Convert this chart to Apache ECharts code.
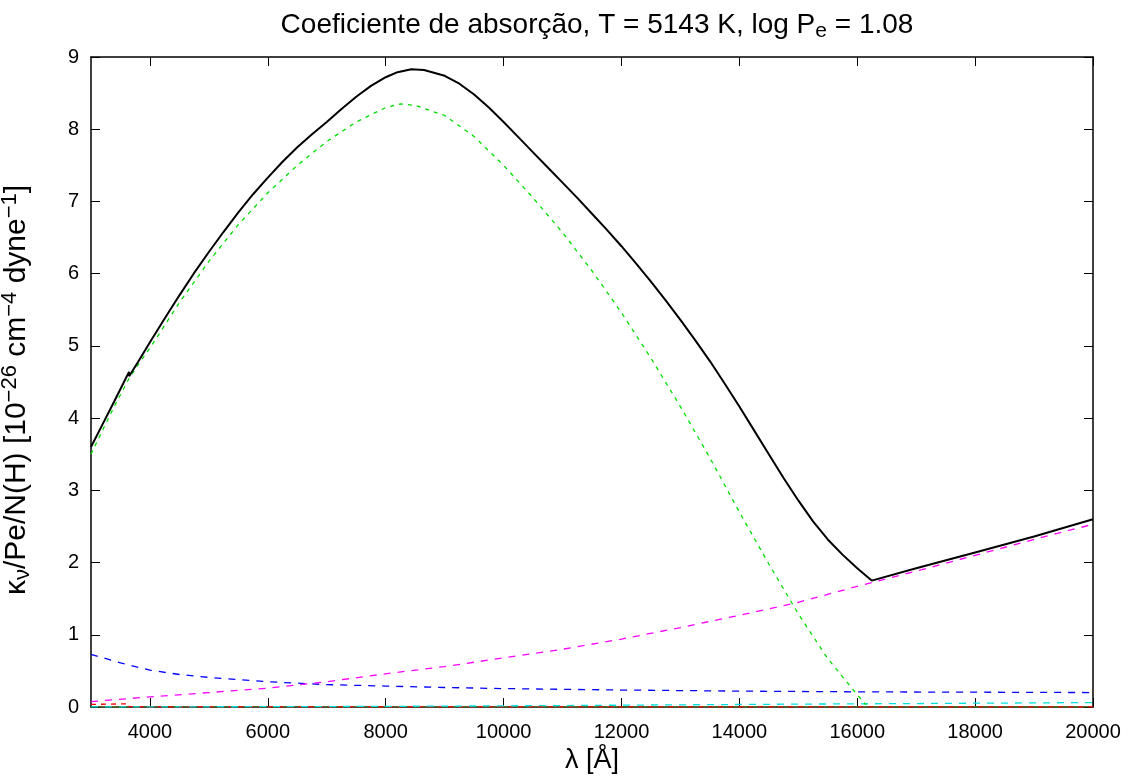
<!DOCTYPE html>
<html><head><meta charset="utf-8">
<script src="https://cdn.jsdelivr.net/npm/echarts@6/dist/echarts.min.js"></script>
<style>html,body{margin:0;padding:0;background:#fff}#c{width:1136px;height:776px}</style>
</head><body><div id="c"></div>
<script>
// tick labels
const xTicks = [4000, 6000, 8000, 10000, 12000, 14000, 16000, 18000, 20000];
const yTicks = [0, 1, 2, 3, 4, 5, 6, 7, 8, 9];

// total absorption coefficient (black)
const totalLam = [3000, 3200, 3400, 3645, 3647, 3800, 4000, 4250, 4500, 4750, 5000, 5250, 5500, 5750, 6000, 6250, 6500, 6750, 7000, 7250, 7500, 7750, 8000, 8200, 8435, 8650, 9000, 9250, 9500, 9750, 10000, 10250, 10500, 10750, 11000, 11250, 11500, 11750, 12000, 12250, 12500, 12750, 13000, 13250, 13500, 13750, 14000, 14250, 14500, 14750, 15000, 15250, 15500, 15750, 16000, 16245, 17000, 18000, 19000, 20000];
const totalVal = [3.60, 3.92, 4.24, 4.64, 4.58, 4.78, 5.05, 5.38, 5.70, 6.01, 6.30, 6.58, 6.85, 7.10, 7.33, 7.55, 7.75, 7.93, 8.10, 8.28, 8.45, 8.60, 8.72, 8.79, 8.83, 8.82, 8.74, 8.63, 8.48, 8.30, 8.10, 7.89, 7.68, 7.47, 7.26, 7.05, 6.83, 6.61, 6.38, 6.14, 5.89, 5.63, 5.36, 5.08, 4.79, 4.48, 4.16, 3.83, 3.50, 3.17, 2.86, 2.57, 2.32, 2.11, 1.92, 1.75, 1.92, 2.14, 2.36, 2.60];

// H- bound-free (green)
const hmbfLam = [3000, 3200, 3400, 3646, 3800, 4000, 4500, 5000, 5500, 6000, 6500, 7000, 7500, 8000, 8250, 8500, 9000, 9500, 10000, 10500, 11000, 11500, 12000, 12500, 13000, 13500, 14000, 14500, 15000, 15500, 16000, 16150];
const hmbfVal = [3.50, 3.84, 4.17, 4.55, 4.74, 4.97, 5.60, 6.17, 6.68, 7.12, 7.50, 7.83, 8.10, 8.30, 8.35, 8.33, 8.19, 7.90, 7.50, 7.05, 6.57, 6.04, 5.46, 4.83, 4.16, 3.45, 2.70, 1.98, 1.29, 0.67, 0.17, 0.03];

// H- free-free (magenta)
const hmffLam = [3000, 4000, 5000, 6000, 7000, 8000, 9000, 10000, 11000, 12000, 13000, 14000, 15000, 16000, 17000, 18000, 19000, 20000];
const hmffVal = [0.075, 0.14, 0.20, 0.26, 0.35, 0.46, 0.56, 0.68, 0.80, 0.94, 1.10, 1.27, 1.45, 1.67, 1.88, 2.10, 2.32, 2.53];

// H bound-free (blue)
const hbfLam = [3000, 3500, 4000, 4500, 5000, 6000, 7000, 8000, 9000, 10000, 12000, 14000, 16000, 18000, 20000];
const hbfVal = [0.73, 0.61, 0.51, 0.45, 0.41, 0.35, 0.31, 0.29, 0.27, 0.255, 0.235, 0.22, 0.21, 0.205, 0.20];

// H free-free (cyan)
const hffLam = [3000, 5000, 7000, 9000, 11000, 13000, 15000, 17000, 19000, 20000];
const hffVal = [0.001, 0.003, 0.006, 0.012, 0.020, 0.030, 0.040, 0.048, 0.057, 0.062];

// metals (red)
const metLam = [3000, 3300, 3645, 3647, 5000, 10000, 20000];
const metVal = [0.035, 0.040, 0.045, 0.004, 0.002, 0.001, 0.001];

// electron scattering (olive)
const elLam = [3000, 20000];
const elVal = [0.004, 0.004];

const zip = (a, b) => a.map((v, i) => [v, b[i]]);

const chart = echarts.init(document.getElementById('c'));
const FONT = 'Liberation Sans';
const axisCommon = {
  type: 'value',
  axisLine: { show: true, onZero: false, lineStyle: { color: '#000', width: 1.5 } },
  axisTick: { show: true, inside: true, length: 9, lineStyle: { color: '#000', width: 1 } },
  splitLine: { show: false }
};
function dashed(name, lam, val, color, dash) {
  return { name, type: 'line', data: zip(lam, val), showSymbol: false, symbol: 'none', z: 3,
    lineStyle: { color, width: 1.3, type: dash } };
}
chart.setOption({
  animation: false,
  backgroundColor: '#fff',
  title: {
    text: 'Coeficiente de absorção, T = 5143 K, log P{sub|e} = 1.08',
    left: 592, top: 4, textAlign: 'center',
    textStyle: { fontFamily: FONT, fontSize: 28, fontWeight: 'normal', color: '#000',
      rich: { sub: { fontFamily: FONT, fontSize: 21, padding: [12, 0, 0, 0], color: '#000' } } }
  },
  grid: { left: 91, right: 43, top: 57, bottom: 69, containLabel: false, outerBoundsMode: 'none' },
  xAxis: [
    Object.assign({}, axisCommon, {
      position: 'bottom', min: 3000, max: 20000,
      axisTick: Object.assign({}, axisCommon.axisTick, { customValues: xTicks }),
      axisLabel: { show: true, customValues: xTicks, margin: 15, color: '#000', fontFamily: FONT, fontSize: 20,
        formatter: v => String(v) },
      name: 'λ [Å]', nameLocation: 'middle', nameGap: 40,
      nameTextStyle: { fontFamily: FONT, fontSize: 27, color: '#000' }
    }),
    Object.assign({}, axisCommon, {
      position: 'top', min: 3000, max: 20000,
      axisTick: Object.assign({}, axisCommon.axisTick, { customValues: xTicks }),
      axisLabel: { show: false }
    })
  ],
  yAxis: [
    Object.assign({}, axisCommon, {
      position: 'left', min: 0, max: 9, interval: 1,
      axisLabel: { show: true, margin: 12, color: '#000', fontFamily: FONT, fontSize: 20,
        formatter: v => String(v) },
      name: 'κ{sub|ν}/Pe/N(H) [10{sup|−26} cm{sup|−4} dyne{sup|−1}]',
      nameLocation: 'middle', nameGap: 56, nameRotate: 90,
      nameTextStyle: { fontFamily: FONT, fontSize: 30, color: '#000', padding: [0, 16, 0, 0],
        rich: {
          sub: { fontFamily: FONT, fontSize: 22, padding: [12, 0, 0, 0], color: '#000' },
          sup: { fontFamily: FONT, fontSize: 22, padding: [0, 0, 14, 0], color: '#000' }
        } }
    }),
    Object.assign({}, axisCommon, {
      position: 'right', min: 0, max: 9, interval: 1,
      axisLabel: { show: false }
    })
  ],
  series: [
    { name: 'el', type: 'line', data: zip(elLam, elVal), showSymbol: false, symbol: 'none', z: 2,
      lineStyle: { color: '#556b2f', width: 1.5 } },
    dashed('metals', metLam, metVal, '#ff0000', [5, 5]),
    dashed('hff', hffLam, hffVal, '#00e0e0', [7, 7]),
    dashed('hbf', hbfLam, hbfVal, '#0000ff', [7, 7]),
    dashed('hmff', hmffLam, hmffVal, '#ff00ff', [7, 7]),
    dashed('hmbf', hmbfLam, hmbfVal, '#00dd00', [4, 5]),
    { name: 'total', type: 'line', data: zip(totalLam, totalVal), showSymbol: false, symbol: 'none', z: 4,
      lineStyle: { color: '#000', width: 2 } }
  ]
});
</script>
</body></html>
